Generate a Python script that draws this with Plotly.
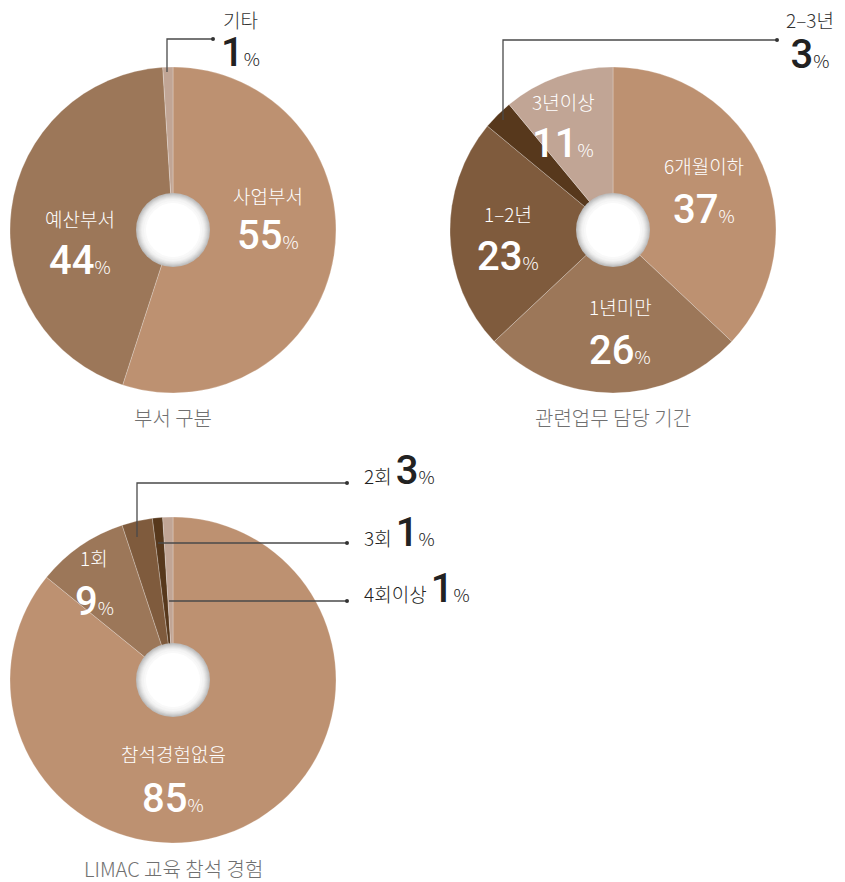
import plotly.graph_objects as go

# ---- data ----
dept_labels = ["사업부서", "예산부서", "기타"]
dept_values = [55, 44, 1]

period_labels = ["6개월이하", "1년미만", "1–2년", "2–3년", "3년이상"]
period_values = [37, 26, 23, 3, 11]

edu_labels = ["참석경험없음", "1회", "2회", "3회", "4회이상"]
edu_values = [85, 9, 3, 1, 1]

chart_titles = ["부서 구분", "관련업무 담당 기간", "LIMAC 교육 참석 경험"]

# ---- styling ----
W, H = 845, 882
FONT = "Noto Sans CJK KR"
C_MAIN = "#BD9171"
C_SECOND = "#9C7759"
C_THIRD = "#7F5B3D"
C_DARK = "#57381C"
C_LIGHT = "#C1A595"

dept_colors = [C_MAIN, C_SECOND, C_LIGHT]
period_colors = [C_MAIN, C_SECOND, C_THIRD, C_DARK, C_LIGHT]
edu_colors = [C_MAIN, C_SECOND, C_THIRD, C_DARK, C_LIGHT]

R = 163
centers = [(173, 230), (613, 230), (173, 680)]


def domain(cx, cy, r):
    return dict(x=[(cx - r) / W, (cx + r) / W],
                y=[1 - (cy + r) / H, 1 - (cy - r) / H])


fig = go.Figure()
for (cx, cy), labels, values, colors in [
    (centers[0], dept_labels, dept_values, dept_colors),
    (centers[1], period_labels, period_values, period_colors),
    (centers[2], edu_labels, edu_values, edu_colors),
]:
    fig.add_trace(go.Pie(
        labels=labels, values=values, sort=False, direction="clockwise",
        rotation=0, textinfo="none", hoverinfo="label+percent",
        marker=dict(colors=colors, line=dict(color="rgba(255,255,255,0.35)", width=0.7)),
        domain=domain(cx, cy, R), showlegend=False,
    ))

shapes = []
annotations = []

# white centre buttons with soft grey rim
rim = [(37, "#bdbdbd"), (36, "#c8c8c8"), (35, "#d3d3d3"), (34, "#dddddd"),
       (33, "#e6e6e6"), (32, "#eeeeee"), (31, "#f4f4f4"), (29, "#f9f9f9"),
       (27, "#ffffff")]
for cx, cy in centers:
    for r, col in rim:
        shapes.append(dict(type="circle", xref="x", yref="y",
                           x0=cx - r, x1=cx + r, y0=cy - r, y1=cy + r,
                           fillcolor=col, line=dict(width=0), layer="above"))


def pct(v, big=40, small=18, weight=500):
    return (f"<span style='font-family:Roboto;font-weight:{weight};font-size:{big}px'>{v}</span>"
            f"<span style='font-size:{small}px'>%</span>")


def inner(label, value, x, y_name, y_val):
    annotations.append(dict(x=x, y=y_name, xref="x", yref="y", text=label,
                            showarrow=False,
                            font=dict(family=FONT, size=19, color="white", weight=300)))
    annotations.append(dict(x=x, y=y_val, xref="x", yref="y", text=pct(value),
                            showarrow=False,
                            font=dict(family=FONT, size=18, color="white", weight=300)))


# labels inside slices
inner(dept_labels[0], dept_values[0], 268, 195, 235)
inner(dept_labels[1], dept_values[1], 80, 218, 260)

inner(period_labels[0], period_values[0], 704, 165, 209)
inner(period_labels[1], period_values[1], 620, 306, 350)
inner(period_labels[2], period_values[2], 508, 213, 256)
inner(period_labels[4], period_values[4], 563, 101, 143)

inner(edu_labels[1], edu_values[1], 94, 557, 601)
inner(edu_labels[0], edu_values[0], 173, 753, 798)

# chart titles
for (cx, cy), t, ty in zip(centers, chart_titles, [417, 417, 868]):
    annotations.append(dict(x=cx, y=ty, xref="x", yref="y", text=t, showarrow=False,
                            font=dict(family=FONT, size=20, color="#707070", weight=300)))

LINE = dict(color="#4a4a4a", width=1.3)


def leader(points):
    path = "M " + " L ".join(f"{x},{y}" for x, y in points)
    shapes.append(dict(type="path", xref="x", yref="y", path=path, line=LINE, layer="above"))
    ex, ey = points[-1]
    shapes.append(dict(type="circle", xref="x", yref="y", x0=ex - 2, x1=ex + 2,
                       y0=ey - 2, y1=ey + 2, fillcolor="#333", line=dict(width=0),
                       layer="above"))


def stacked(label, value):
    # name on the first line, large value on the second
    return (f"<span style='font-size:19px;fill:#333'>{label}</span><br>"
            + pct(value, 40, 18))


# callouts for thin slices
leader([(167, 72), (167, 39), (213, 39)])
annotations.append(dict(x=240, y=4, xref="x", yref="y", yanchor="top",
                        text=stacked(dept_labels[2], dept_values[2]), showarrow=False,
                        font=dict(family=FONT, size=29, color="#222", weight=300)))

leader([(503, 120), (503, 40), (777, 40)])
annotations.append(dict(x=810, y=4, xref="x", yref="y", yanchor="top",
                        text=stacked(period_labels[3], period_values[3]), showarrow=False,
                        font=dict(family=FONT, size=31, color="#222", weight=300)))

for pts, lab, val, ty in [
    ([(137, 537), (137, 483), (347, 483)], edu_labels[2], edu_values[2], 470),
    ([(158, 543), (347, 543)], edu_labels[3], edu_values[3], 532),
    ([(169, 601), (347, 601)], edu_labels[4], edu_values[4], 588),
]:
    leader(pts)
    annotations.append(dict(x=362, y=ty, xref="x", yref="y", xanchor="left",
                            text=f"{lab} " + pct(val, 40, 18), showarrow=False,
                            font=dict(family=FONT, size=19, color="#222", weight=300)))

fig.update_layout(
    width=W, height=H, margin=dict(l=0, r=0, t=0, b=0),
    paper_bgcolor="white", plot_bgcolor="rgba(0,0,0,0)",
    xaxis=dict(range=[0, W], visible=False, fixedrange=True, domain=[0, 1]),
    yaxis=dict(range=[H, 0], visible=False, fixedrange=True, domain=[0, 1]),
    shapes=shapes, annotations=annotations,
    font=dict(family=FONT),
)

fig.write_html("out.html")
